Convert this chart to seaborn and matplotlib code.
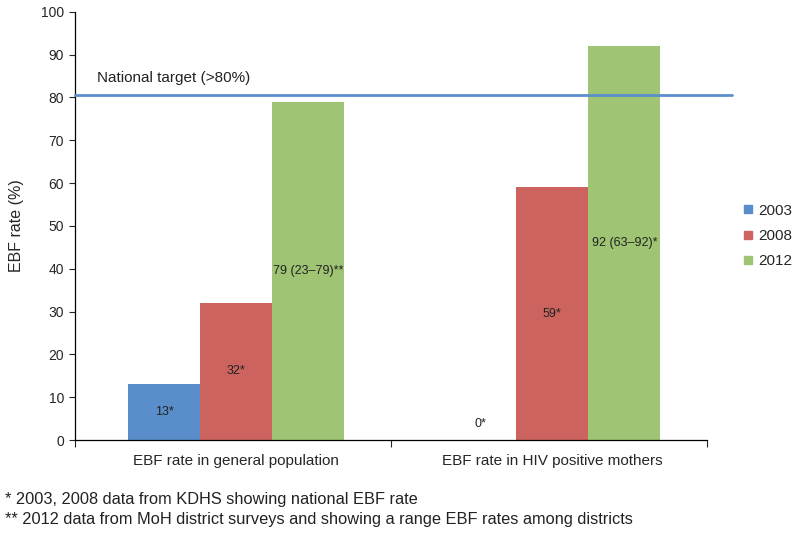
import numpy as np
import pandas as pd
import matplotlib
matplotlib.use("Agg")
import matplotlib.pyplot as plt
import seaborn as sns
from matplotlib.lines import Line2D

sns.set_style("white")
plt.rcParams['font.family'] = ['Liberation Sans', 'DejaVu Sans']

# data
categories = ["EBF rate in general population", "EBF rate in HIV positive mothers"]
years = ["2003", "2008", "2012"]
rate_general = [13, 32, 79]
rate_hiv = [0, 59, 92]
labels_general = ["13*", "32*", "79 (23\u201379)**"]
labels_hiv = ["0*", "59*", "92 (63\u201392)*"]
national_target = 80.6
colors = ["#5a8ecb", "#cd635e", "#9fc473"]

df = pd.DataFrame({
    "category": [categories[0]] * 3 + [categories[1]] * 3,
    "year": years * 2,
    "rate": rate_general + rate_hiv,
    "label": labels_general + labels_hiv,
})

fig = plt.figure(figsize=(8, 5.34), dpi=100)
ax = fig.add_axes([0.094, 0.176, 0.790, 0.802])

sns.barplot(data=df, x="category", y="rate", hue="year", order=categories,
            hue_order=years, palette=colors, width=0.684, saturation=1,
            linewidth=0, legend=False, ax=ax)

ax.set_ylim(0, 100)
ax.set_xlim(-0.51, 1.49)
ax.set_yticks(range(0, 101, 10))
ax.tick_params(axis="y", labelsize=10, length=4, width=0.8, direction="out", left=True, pad=4)
ax.tick_params(axis="x", which="major", length=0, pad=10)
ax.set_xticks([-0.51, 0.49, 1.49], minor=True)
ax.tick_params(axis="x", which="minor", length=5, width=0.8, direction="out", bottom=True)
for t in ax.get_xticklabels():
    t.set_fontsize(11)
ax.set_xlabel("")
ax.set_ylabel("EBF rate (%)", fontsize=11.5, labelpad=12)
for s in ["top", "right"]:
    ax.spines[s].set_visible(False)
for s in ["left", "bottom"]:
    ax.spines[s].set_color("black")
    ax.spines[s].set_linewidth(0.9)

# bar value labels, centred inside each bar
for bars, row_year in zip(ax.containers, years):
    for patch, cat in zip(bars, categories):
        row = df[(df.category == cat) & (df.year == row_year)].iloc[0]
        xc = patch.get_x() + patch.get_width() / 2
        yc = row.rate / 2 if row.rate > 0 else 3.7
        ax.text(xc, yc, row.label, ha="center", va="center", fontsize=9,
                color="#222222")

# national target line
ax.plot([0, 1.04], [national_target, national_target], color="#5b8fca",
        lw=2, transform=ax.get_yaxis_transform(), clip_on=False, zorder=3)
ax.text(-0.44, national_target + 2.4, "National target (>80%)", fontsize=11,
        ha="left", va="bottom", color="#222222")

# legend
handles = [Line2D([], [], marker="s", ls="", color=c, markersize=6) for c in colors]
fig.legend(handles, years, loc="center left", bbox_to_anchor=(0.927, 0.558),
           frameon=False, fontsize=11, handletextpad=0.3, labelspacing=0.75,
           handlelength=0.8, borderaxespad=0, borderpad=0)

fig.text(0.006, 0.064, "* 2003, 2008 data from KDHS showing national EBF rate",
         fontsize=11.8, va="center", color="#222222")
fig.text(0.006, 0.028, "** 2012 data from MoH district surveys and showing a range EBF rates among districts",
         fontsize=11.8, va="center", color="#222222")

fig.savefig("out.png", dpi=100, facecolor="white")
